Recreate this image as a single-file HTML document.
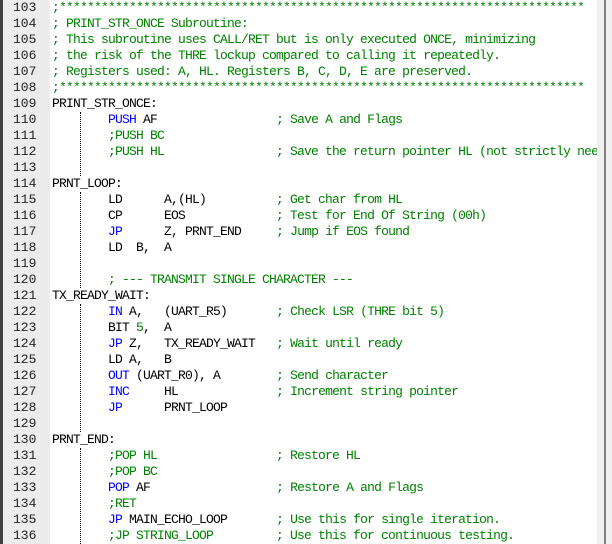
<!DOCTYPE html>
<html><head><meta charset="utf-8"><style>
html,body{margin:0;padding:0;background:#fff;width:612px;height:544px;overflow:hidden}
#g{position:absolute;left:0;top:0;width:50px;height:544px;background:#ececec;border-left:3px solid #404040;box-sizing:border-box}
#c{position:absolute;left:52px;top:0;width:545px;height:544px;overflow:hidden}
#sb{position:absolute;left:597px;top:0;width:15px;height:544px;background:#f0f0f0}
#sb i{position:absolute;left:7px;top:0;width:2px;height:544px;background:#808080}
.l{height:16px;line-height:16px;white-space:pre;font-family:"Liberation Mono",monospace;font-size:13px;letter-spacing:-0.8px;color:#000}
.n{padding-left:10px;color:#222;font-size:13px;letter-spacing:0}
.m{color:#008000}.k{color:#0000ff}
.d{position:absolute;left:80px;width:0;border-left:1px dotted #000}
</style></head><body>
<div id="g">
<div class="l n">103</div><div class="l n">104</div><div class="l n">105</div><div class="l n">106</div><div class="l n">107</div><div class="l n">108</div><div class="l n">109</div><div class="l n">110</div><div class="l n">111</div><div class="l n">112</div><div class="l n">113</div><div class="l n">114</div><div class="l n">115</div><div class="l n">116</div><div class="l n">117</div><div class="l n">118</div><div class="l n">119</div><div class="l n">120</div><div class="l n">121</div><div class="l n">122</div><div class="l n">123</div><div class="l n">124</div><div class="l n">125</div><div class="l n">126</div><div class="l n">127</div><div class="l n">128</div><div class="l n">129</div><div class="l n">130</div><div class="l n">131</div><div class="l n">132</div><div class="l n">133</div><div class="l n">134</div><div class="l n">135</div><div class="l n">136</div>
</div>
<div class="d" style="top:112px;height:64px"></div>
<div class="d" style="top:192px;height:96px"></div>
<div class="d" style="top:304px;height:128px"></div>
<div class="d" style="top:448px;height:96px"></div>
<div id="c">
<div class="l m">;***************************************************************************</div>
<div class="l m">; PRINT_STR_ONCE Subroutine:</div>
<div class="l m">; This subroutine uses CALL/RET but is only executed ONCE, minimizing</div>
<div class="l m">; the risk of the THRE lockup compared to calling it repeatedly.</div>
<div class="l m">; Registers used: A, HL. Registers B, C, D, E are preserved.</div>
<div class="l m">;***************************************************************************</div>
<div class="l">PRINT_STR_ONCE:</div>
<div class="l">        <span class="k">PUSH</span> AF                 <span class="m">; Save A and Flags</span></div>
<div class="l m">        ;PUSH BC</div>
<div class="l m">        ;PUSH HL                ; Save the return pointer HL (not strictly needed)</div>
<div class="l"> </div>
<div class="l">PRNT_LOOP:</div>
<div class="l">        LD      A,(HL)          <span class="m">; Get char from HL</span></div>
<div class="l">        CP      EOS             <span class="m">; Test for End Of String (00h)</span></div>
<div class="l">        <span class="k">JP</span>      Z, PRNT_END     <span class="m">; Jump if EOS found</span></div>
<div class="l">        LD  B,  A</div>
<div class="l"> </div>
<div class="l m">        ; --- TRANSMIT SINGLE CHARACTER ---</div>
<div class="l">TX_READY_WAIT:</div>
<div class="l">        <span class="k">IN</span> A,   (UART_R5)       <span class="m">; Check LSR (THRE bit 5)</span></div>
<div class="l">        BIT <span class="m">5</span>,  A</div>
<div class="l">        <span class="k">JP</span> Z,   TX_READY_WAIT   <span class="m">; Wait until ready</span></div>
<div class="l">        LD A,   B</div>
<div class="l">        <span class="k">OUT</span> (UART_R0), A        <span class="m">; Send character</span></div>
<div class="l">        <span class="k">INC</span>     HL              <span class="m">; Increment string pointer</span></div>
<div class="l">        <span class="k">JP</span>      PRNT_LOOP</div>
<div class="l"> </div>
<div class="l">PRNT_END:</div>
<div class="l m">        ;POP HL                 ; Restore HL</div>
<div class="l m">        ;POP BC</div>
<div class="l">        <span class="k">POP</span> AF                  <span class="m">; Restore A and Flags</span></div>
<div class="l m">        ;RET</div>
<div class="l">        <span class="k">JP</span> MAIN_ECHO_LOOP       <span class="m">; Use this for single iteration.</span></div>
<div class="l m">        ;JP STRING_LOOP         ; Use this for continuous testing.</div>
</div>
<div id="sb"><i></i></div>
</body></html>
